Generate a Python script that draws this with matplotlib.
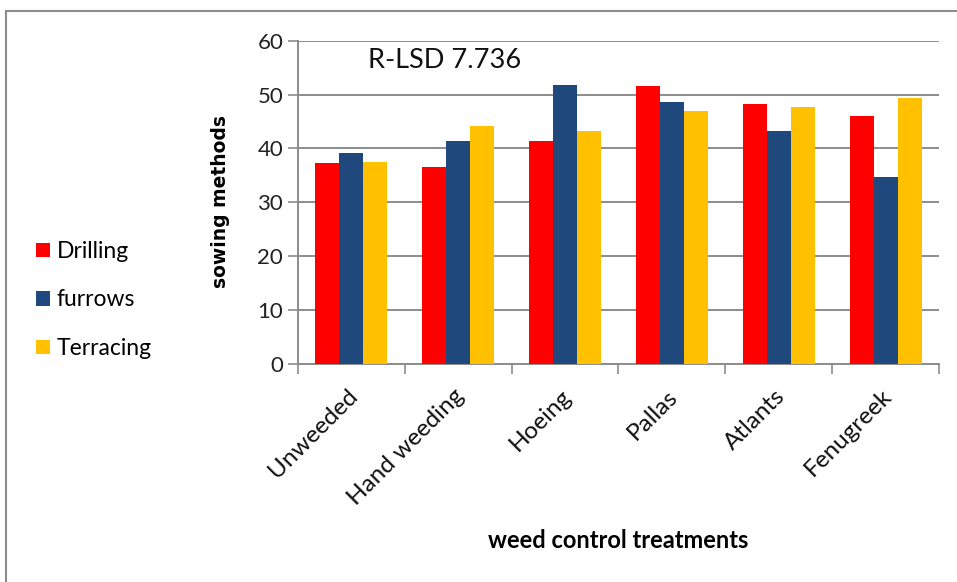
import matplotlib
matplotlib.use("Agg")
import matplotlib.pyplot as plt
import numpy as np
from matplotlib.patches import Rectangle

categories = ["Unweeded", "Hand weeding", "Hoeing", "Pallas", "Atlants", "Fenugreek"]
drilling = [37.3, 36.5, 41.3, 51.5, 48.2, 46.0]
furrows = [39.1, 41.3, 51.7, 48.7, 43.2, 34.6]
terracing = [37.5, 44.1, 43.2, 47.0, 47.7, 49.4]
series_names = ["Drilling", "furrows", "Terracing"]
colors = ["#FF0000", "#1F497D", "#FFC000"]

plt.rcParams['font.family'] = ['Lato', 'DejaVu Sans']

W, H = 957, 582
fig = plt.figure(figsize=(W/100, H/100), dpi=100)
ax = fig.add_axes([298/W, 1-363.7/H, (939-298)/W, (363.7-40.7)/H])

x = np.arange(len(categories))
w = 0.225
handles = []
for i, (vals, c, name) in enumerate(zip([drilling, furrows, terracing], colors, series_names)):
    b = ax.bar(x + (i-1)*w, vals, width=w, color=c, label=name, zorder=3)
    handles.append(b)

ax.set_xlim(-0.5, len(categories)-0.5)
ax.set_ylim(0, 60)
ax.set_yticks(range(0, 61, 10))
ax.tick_params(axis='y', labelsize=16, length=7.2, width=1.2, color='#8c8c8c',
               direction='out', pad=3.5, labelcolor='#222222')
ax.yaxis.grid(True, color='#8c8c8c', linewidth=1.4, zorder=0)
ax.set_axisbelow(True)
ax.set_xticks(np.arange(-0.5, len(categories), 1.0))
ax.set_xticklabels([])
ax.tick_params(axis='x', length=7.2, width=1.2, color='#8c8c8c', direction='out')
for lab_x, lab in zip(x, categories):
    ax.annotate(lab, xy=(lab_x, 0), xycoords=('data', 'axes fraction'),
                xytext=(2, -21), textcoords='offset points',
                rotation=45, ha='right', va='center', rotation_mode='anchor',
                fontsize=17.5, color='#111111')
for s in ['top', 'right']:
    ax.spines[s].set_visible(False)
for s in ['left', 'bottom']:
    ax.spines[s].set_color('#8c8c8c')
    ax.spines[s].set_linewidth(1.4)

fig.text(221/W, 1-201/H, "sowing methods", rotation=90, ha='center', va='center',
         fontsize=13.5, fontweight='bold', family=['DejaVu Sans'])
fig.text(618/W, 1-540/H, "weed control treatments", ha='center', va='center',
         fontsize=17, fontweight='bold')
fig.text(368/W, 1-60.5/H, "R-LSD 7.736", ha='left', va='center', fontsize=19.5,
         color='#111111')

fig.legend(handles=handles, labels=series_names, loc='center left',
           bbox_to_anchor=(36/W, 1-300/H), frameon=False, fontsize=16.5,
           handlelength=0.61, handleheight=0.61, labelspacing=1.2, handletextpad=0.3,
           borderpad=0, borderaxespad=0)

fig.patches.append(Rectangle((6/W, -0.1), 1.1, 1-11/H+0.1, transform=fig.transFigure,
                             fill=False, edgecolor='#8c8c8c', linewidth=1.5))

fig.savefig("out.png", dpi=100)
